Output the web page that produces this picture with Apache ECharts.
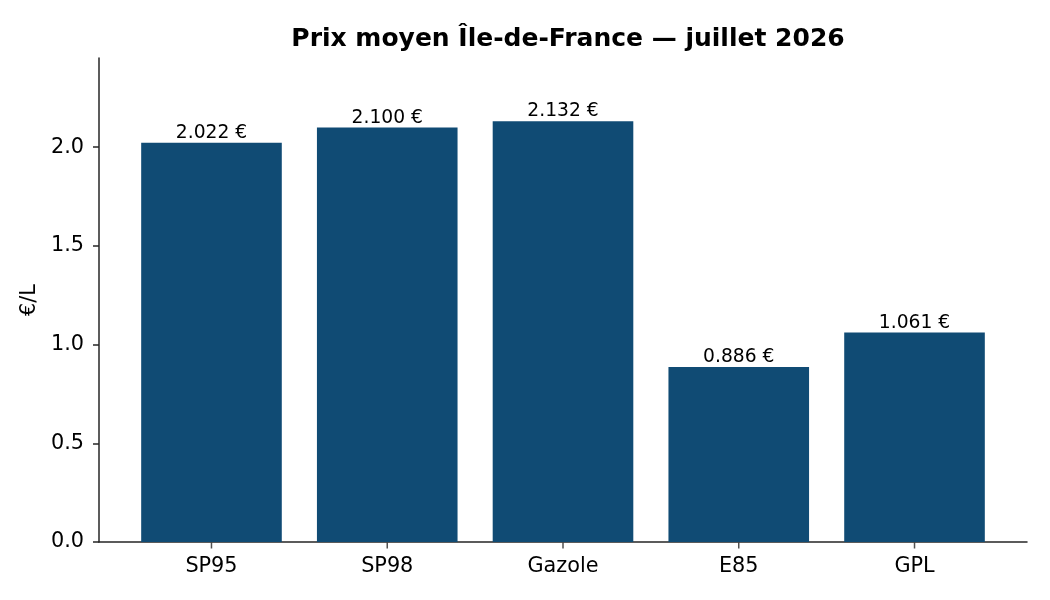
<!DOCTYPE html>
<html>
<head>
<meta charset="utf-8">
<script src="https://cdn.jsdelivr.net/npm/echarts@6/dist/echarts.min.js"></script>
<style>
  html, body { margin: 0; padding: 0; background: #fff; }
  #chart { width: 1050px; height: 600px; }
</style>
</head>
<body>
<div id="chart"></div>
<script>
// carburants et prix moyens (€/L)
var categories = ["SP95", "SP98", "Gazole", "E85", "GPL"];
var prices = [2.022, 2.100, 2.132, 0.886, 1.061];
var yTicks = [0, 0.5, 1.0, 1.5, 2.0];

var axisColor = "#262626";
var font = "DejaVu Sans";
var yMax = 2.4518;

// cadre complet : axe x de -0.64 à 4.64 (marges matplotlib), bandes de 176 px
var plotLeft = 99, plotRight = 23;
var band = (1050 - plotLeft - plotRight) / 5.28;
var innerLeft = plotLeft + 0.14 * band;
var innerRight = plotRight + 0.14 * band;

// petites graduations sous chaque catégorie
var tickData = categories.map(function (c) { return [c, 0]; });

var option = {
    animation: false,
    backgroundColor: "#ffffff",
    title: {
        text: "Prix moyen Île-de-France — juillet 2026",
        left: 563,
        top: 22,
        textAlign: "center",
        textStyle: {
            fontFamily: font,
            fontWeight: "bold",
            fontSize: 25,
            color: "#000"
        }
    },
    grid: [
        { left: plotLeft, right: plotRight, top: 58, bottom: 58 },
        { left: innerLeft, right: innerRight, top: 58, bottom: 58 }
    ],
    xAxis: [{
        gridIndex: 0,
        type: "value",
        min: -0.64,
        max: 4.64,
        splitLine: { show: false },
        axisLine: { show: true, onZero: false, lineStyle: { color: axisColor, width: 1.5 } },
        axisTick: { show: false },
        axisLabel: { show: false }
    }, {
        gridIndex: 1,
        type: "category",
        data: categories,
        axisLine: { show: false },
        axisTick: { show: false },
        axisLabel: {
            margin: 14,
            fontFamily: font,
            fontSize: 20.8,
            color: "#000"
        }
    }],
    yAxis: [{
        gridIndex: 0,
        type: "value",
        min: 0,
        max: yMax,
        name: "€/L",
        nameLocation: "middle",
        nameGap: 56,
        nameRotate: 90,
        nameTextStyle: {
            fontFamily: font,
            fontSize: 20.8,
            color: "#000"
        },
        splitLine: { show: false },
        axisLine: { show: true, onZero: false, lineStyle: { color: axisColor, width: 1.5 } },
        axisTick: {
            show: true,
            customValues: yTicks,
            length: 6,
            lineStyle: { color: axisColor, width: 1.5 }
        },
        axisLabel: {
            customValues: yTicks,
            margin: 15,
            fontFamily: font,
            fontSize: 20.8,
            color: "#000",
            formatter: function (v) {
                return v.toFixed(1);
            }
        }
    }, {
        gridIndex: 1,
        type: "value",
        min: 0,
        max: yMax,
        show: false
    }],
    series: [{
        type: "bar",
        xAxisIndex: 1,
        yAxisIndex: 1,
        data: prices,
        barWidth: "80%",
        itemStyle: { color: "#104b74" },
        label: {
            show: true,
            position: "top",
            distance: 0,
            fontFamily: font,
            fontSize: 18.7,
            color: "#000",
            formatter: function (p) {
                return p.value.toFixed(3) + " €";
            }
        }
    }, {
        type: "scatter",
        xAxisIndex: 1,
        yAxisIndex: 1,
        data: tickData,
        symbol: "rect",
        symbolSize: [1.5, 6],
        symbolOffset: [0, 3.5],
        clip: false,
        silent: true,
        z: 5,
        itemStyle: { color: axisColor }
    }]
};

var myChart = echarts.init(document.getElementById("chart"));
myChart.setOption(option);
</script>
</body>
</html>
